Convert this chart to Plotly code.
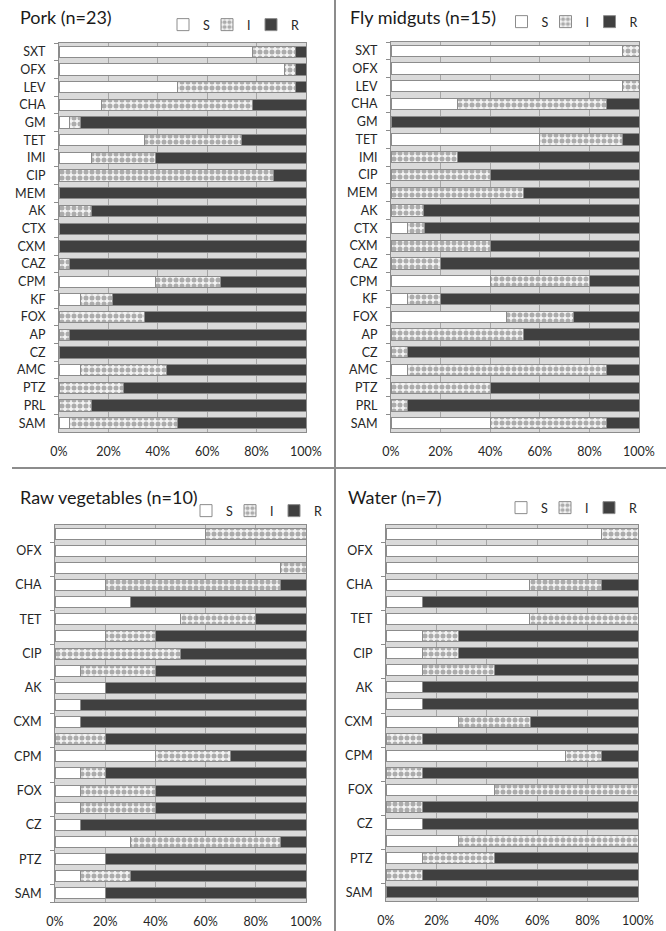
import plotly.graph_objects as go

W, H = 666, 931

antibiotics = ["SXT", "OFX", "LEV", "CHA", "GM", "TET", "IMI", "CIP", "MEM", "AK", "CTX",
               "CXM", "CAZ", "CPM", "KF", "FOX", "AP", "CZ", "AMC", "PTZ", "PRL", "SAM"]

# Pork (n=23), percentages
pork_S = [78.3, 91.3, 47.8, 17.4, 4.35, 34.8, 13.0, 0, 0, 0, 0,
          0, 0, 39.1, 8.7, 0, 0, 0, 8.7, 0, 0, 4.35]
pork_I = [17.4, 4.35, 47.8, 60.9, 4.35, 39.1, 26.1, 87.0, 0, 13.0, 0,
          0, 4.35, 26.1, 13.0, 34.8, 4.35, 0, 34.8, 26.1, 13.0, 43.5]
pork_R = [4.3, 4.35, 4.4, 21.7, 91.3, 26.1, 60.9, 13.0, 100, 87.0, 100,
          100, 95.65, 34.8, 78.3, 65.2, 95.65, 100, 56.5, 73.9, 87.0, 52.15]

# Fly midguts (n=15)
fly_S = [93.3, 100, 93.3, 26.7, 0, 60.0, 0, 0, 0, 0, 6.7,
         0, 0, 40.0, 6.7, 46.7, 0, 0, 6.7, 0, 0, 40.0]
fly_I = [6.7, 0, 6.7, 60.0, 0, 33.3, 26.7, 40.0, 53.3, 13.3, 6.7,
         40.0, 20.0, 40.0, 13.3, 26.7, 53.3, 6.7, 80.0, 40.0, 6.7, 46.7]
fly_R = [0, 0, 0, 13.3, 100, 6.7, 73.3, 60.0, 46.7, 86.7, 86.6,
         60.0, 80.0, 20.0, 80.0, 26.6, 46.7, 93.3, 13.3, 60.0, 93.3, 13.3]

# Raw vegetables (n=10)
veg_S = [60, 100, 90, 20, 30, 50, 20, 0, 10, 20, 10,
         10, 0, 40, 10, 10, 10, 10, 30, 20, 10, 20]
veg_I = [40, 0, 10, 70, 0, 30, 20, 50, 30, 0, 0,
         0, 20, 30, 10, 30, 30, 0, 60, 0, 20, 0]
veg_R = [0, 0, 0, 10, 70, 20, 60, 50, 60, 80, 90,
         90, 80, 30, 80, 60, 60, 90, 10, 80, 70, 80]

# Water (n=7)
water_S = [85.7, 100, 100, 57.1, 14.3, 57.1, 14.3, 14.3, 14.3, 14.3, 14.3,
           28.6, 0, 71.4, 0, 42.9, 0, 14.3, 28.6, 14.3, 0, 0]
water_I = [14.3, 0, 0, 28.6, 0, 42.9, 14.3, 14.3, 28.6, 0, 0,
           28.6, 14.3, 14.3, 14.3, 57.1, 14.3, 0, 71.4, 28.6, 14.3, 0]
water_R = [0, 0, 0, 14.3, 85.7, 0, 71.4, 71.4, 57.1, 85.7, 85.7,
           42.8, 85.7, 14.3, 85.7, 0, 85.7, 85.7, 0, 57.1, 85.7, 100]

titles = ["Pork (n=23)", "Fly midguts (n=15)", "Raw vegetables (n=10)", "Water (n=7)"]
series_names = ["S", "I", "R"]
x_ticks = [0, 20, 40, 60, 80, 100]
x_ticktext = ["0%", "20%", "40%", "60%", "80%", "100%"]
short_labels = antibiotics[1::2]

panels = [
    (pork_S, pork_I, pork_R),
    (fly_S, fly_I, fly_R),
    (veg_S, veg_I, veg_R),
    (water_S, water_I, water_R),
]

# plot-area pixel boxes (left, right, top, bottom)
boxes = [(59, 306, 43, 432), (391, 639, 42, 432), (55, 306, 525, 902), (386, 638, 525, 901)]
title_pos = [(18, 17), (348, 17), (18, 497), (346, 497)]
# legend: centre of the S-I-R key group (x, y) and spacing between keys
legend_grp = [(227, 25), (565.5, 22), (250, 511), (565, 508)]
KEY_STEP = 44

FONT = "Lato"
TXT = "#262626"
EDGE = "#8c8c8c"

fig = go.Figure()

def fill_marker(k):
    if k == 0:
        return dict(color="#ffffff", line=dict(color=EDGE, width=1))
    if k == 1:
        return dict(color="#ffffff", line=dict(color=EDGE, width=1),
                    pattern=dict(shape=".", fgcolor="#acacac", bgcolor="#f4f4f4",
                                 size=6, solidity=0.55, fillmode="replace"))
    return dict(color="#404040", line=dict(color=EDGE, width=1))

def legend_id(p, k):
    n = p * 3 + k + 1
    return "legend" if n == 1 else f"legend{n}"

for p, vals in enumerate(panels):
    sfx = "" if p == 0 else str(p + 1)
    for k, name in enumerate(series_names):
        fig.add_trace(go.Bar(
            x=vals[k], y=antibiotics, orientation="h", name=name,
            marker=fill_marker(k), xaxis="x" + sfx, yaxis="y" + sfx,
            legend=legend_id(p, k), showlegend=True, hoverinfo="x+y+name",
        ))

layout = dict(
    width=W, height=H, margin=dict(l=0, r=0, t=0, b=0, autoexpand=False),
    paper_bgcolor="white", plot_bgcolor="#dadada",
    barmode="stack", bargap=0.36,
    font=dict(family=FONT, size=12, color=TXT),
    showlegend=True,
)

annotations = []
for p in range(4):
    l, r, t, b = boxes[p]
    sfx = "" if p == 0 else str(p + 1)
    layout["xaxis" + sfx] = dict(
        domain=[l / W, r / W], range=[0, 100], anchor="y" + sfx, automargin=False,
        tickvals=x_ticks, ticktext=x_ticktext, showgrid=True, gridcolor="#a6a6a6",
        gridwidth=1, zeroline=False, showline=True, linecolor=EDGE, mirror=True,
        ticks="", ticklabelstandoff=8, tickfont=dict(size=12.5, color=TXT, family=FONT),
        fixedrange=True,
    )
    yax = dict(
        domain=[1 - b / H, 1 - t / H], anchor="x" + sfx, type="category", automargin=False,
        categoryorder="array", categoryarray=antibiotics, autorange="reversed",
        showline=True, linecolor=EDGE, mirror=True, ticks="outside", ticklen=4,
        tickcolor=EDGE, tickson="boundaries", showgrid=False,
        ticklabelstandoff=10, tickfont=dict(size=12.5, color=TXT, family=FONT),
        fixedrange=True,
    )
    if p >= 2:
        yax["tickvals"] = short_labels
        yax["ticktext"] = short_labels
    layout["yaxis" + sfx] = yax

    tx, ty = title_pos[p]
    annotations.append(dict(text=titles[p], x=tx / W, y=1 - ty / H, xref="paper", yref="paper",
                            xanchor="left", yanchor="middle", showarrow=False,
                            font=dict(family=FONT, size=18, color="#1a1a1a")))

    gx, gy = legend_grp[p]
    for k in range(3):
        cx = gx + (k - 1) * KEY_STEP
        layout[legend_id(p, k)] = dict(
            x=(cx - 20) / W, y=1 - gy / H, xanchor="left", yanchor="middle",
            orientation="h", bgcolor="rgba(0,0,0,0)", itemwidth=30,
            font=dict(family=FONT, size=12.5, color=TXT),
            itemclick=False, itemdoubleclick=False,
        )

layout["annotations"] = annotations
layout["shapes"] = [
    dict(type="line", xref="paper", yref="paper", x0=335 / W, x1=335 / W, y0=0, y1=1,
         line=dict(color="#8c8c8c", width=2)),
    dict(type="line", xref="paper", yref="paper", x0=12 / W, x1=1, y0=1 - 468 / H, y1=1 - 468 / H,
         line=dict(color="#8c8c8c", width=2)),
]

fig.update_layout(**layout)
fig.write_html("out.html", config={"displayModeBar": False},
               post_script="document.body.style.margin='0';document.body.style.overflow='hidden';")
